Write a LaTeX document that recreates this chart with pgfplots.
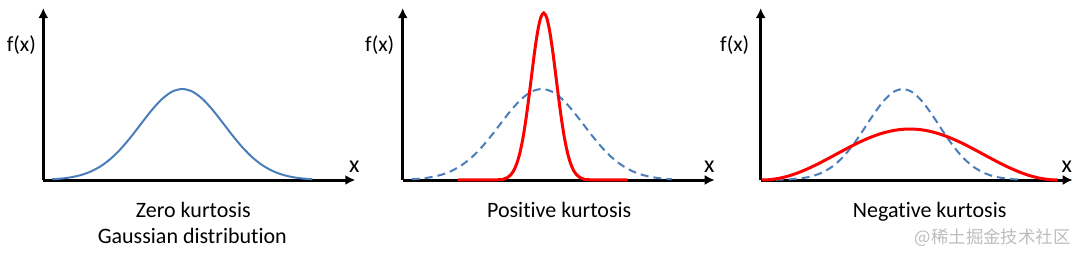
\documentclass[border=0pt]{standalone}
\usepackage{pgfplots}
\pgfplotsset{compat=1.18}
\usetikzlibrary{arrows.meta}
\usepackage{fontspec}
\setmainfont[Ligatures=NoCommon]{Carlito}
\newfontfamily\cjk{Noto Sans CJK SC}
\definecolor{lineblue}{HTML}{4A7EBB}
\definecolor{wm}{HTML}{BDBDBD}
\pgfplotsset{
  kurt/.style={
    scale only axis, width=156pt, height=86pt,
    xmin=0, xmax=312, ymin=0, ymax=172,
    axis lines=left, xtick=\empty, ytick=\empty,
    axis line style={line width=1.5pt, -{Latex[length=5pt,width=5pt]}},
    clip=false, anchor=south west,
  },
  blue solid/.style={lineblue, line width=1pt, smooth},
  blue dash/.style={lineblue, line width=1pt, smooth, dash pattern=on 4pt off 2.5pt},
  red curve/.style={red, line width=1.5pt, smooth},
}
\begin{document}
\begin{tikzpicture}
\useasboundingbox (0,0) rectangle (540pt,126pt);
% Panel 1
\begin{axis}[kurt, at={(21.65pt,36pt)}]
\addplot[blue solid] coordinates {(9,0.76)(19,1.54)(29,2.95)(39,5.35)(49,9.16)(59,14.83)(69,22.69)(79,32.80)(89,44.80)(99,57.82)(109,70.51)(119,81.25)(129,88.46)(139,91)(149,88.46)(159,81.25)(169,70.51)(179,57.82)(189,44.80)(199,32.80)(209,22.69)(219,14.83)(229,9.16)(239,5.35)(249,2.95)(259,1.54)(269,0.76)};
\node[font=\fontsize{10.8}{12}\selectfont] at (axis cs:-22,135) {f(x)};
\node[font=\fontsize{12}{14}\selectfont, anchor=base] at (axis cs:311,8) {x};
\node[font=\fontsize{11}{13}\selectfont, anchor=base] at (axis cs:150,-37) {Zero kurtosis};
\node[font=\fontsize{11}{13}\selectfont, anchor=base] at (axis cs:149,-63) {Gaussian distribution};
\end{axis}
% Panel 2
\begin{axis}[kurt, at={(201.35pt,36pt)}]
\addplot[blue dash] coordinates {(9,0.76)(19,1.54)(29,2.95)(39,5.35)(49,9.16)(59,14.83)(69,22.69)(79,32.80)(89,44.80)(99,57.82)(109,70.51)(119,81.25)(129,88.46)(139,91)(149,88.46)(159,81.25)(169,70.51)(179,57.82)(189,44.80)(199,32.80)(209,22.69)(219,14.83)(229,9.16)(239,5.35)(249,2.95)(259,1.54)(269,0.76)};
\addplot[red curve] coordinates {(55,0)(96,0.26)(101,1.0)(105,2.64)(108,5.12)(111,9.37)(114,16.2)(117,26.4)(120,40.7)(123,59.2)(126,81.3)(129,105.3)(132,128.9)(135,148.8)(138,162.3)(141,167)(144,162.3)(147,148.8)(150,128.9)(153,105.3)(156,81.3)(159,59.2)(162,40.7)(165,26.4)(168,16.2)(171,9.37)(174,5.12)(177,2.64)(181,1.0)(186,0.26)(225,0)};
\node[font=\fontsize{10.8}{12}\selectfont] at (axis cs:-23,135) {f(x)};
\node[font=\fontsize{12}{14}\selectfont, anchor=base] at (axis cs:306.5,8) {x};
\node[font=\fontsize{11}{13}\selectfont, anchor=base] at (axis cs:156.5,-37) {Positive kurtosis};
\end{axis}
% Panel 3
\begin{axis}[kurt, at={(380.35pt,36pt)}]
\addplot[blue dash] coordinates {(2,0.1)(22,0.35)(32,0.85)(42,1.92)(52,4.00)(62,7.70)(72,13.74)(82,22.69)(92,34.69)(102,49.09)(112,64.31)(122,77.99)(132,87.56)(142,91)(152,87.56)(162,77.99)(172,64.31)(182,49.09)(192,34.69)(202,22.69)(212,13.74)(222,7.70)(232,4.00)(242,1.92)(252,0.85)(262,0.35)};
\addplot[red curve] coordinates {(1,0)(9,0.37)(19,1.83)(29,4.36)(39,7.86)(49,12.14)(59,17.01)(69,22.26)(79,27.67)(89,32.97)(99,37.95)(109,42.35)(119,46.00)(129,48.74)(139,50.43)(149,51)(159,50.43)(169,48.74)(179,46.00)(189,42.35)(199,37.95)(209,32.97)(219,27.67)(229,22.26)(239,17.01)(249,12.14)(259,7.86)(269,4.36)(279,1.83)(289,0.37)(297,0)};
\node[font=\fontsize{10.8}{12}\selectfont] at (axis cs:-26,135) {f(x)};
\node[font=\fontsize{12}{14}\selectfont, anchor=base] at (axis cs:306,8) {x};
\node[font=\fontsize{11}{13}\selectfont, anchor=base] at (axis cs:169,-37) {Negative kurtosis};
\node[font=\cjk\fontsize{8.7}{10}\selectfont, text=wm, anchor=base] at (axis cs:232,-63) {@稀土掘金技术社区};
\end{axis}
\end{tikzpicture}
\end{document}
